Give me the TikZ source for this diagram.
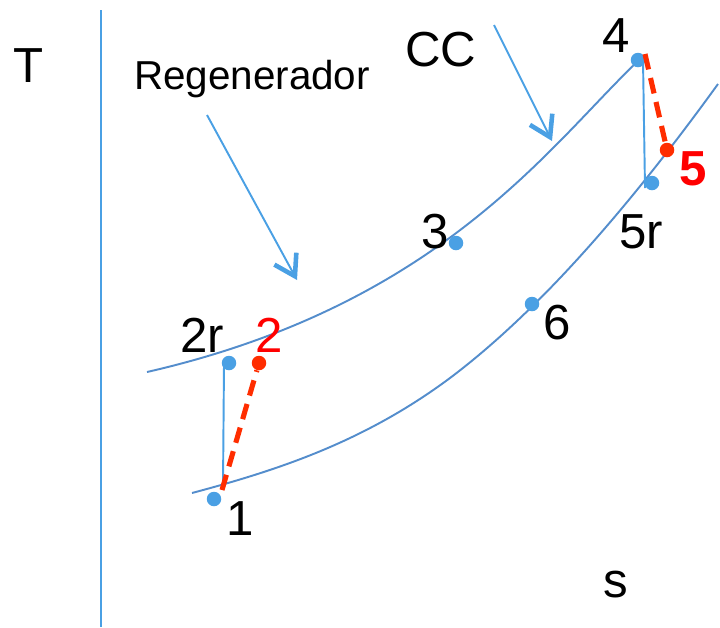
\documentclass[tikz,border=0pt]{standalone}
\usepackage{fontspec}
\setmainfont{Liberation Sans}
\usetikzlibrary{arrows.meta,positioning}

\definecolor{axisblue}{RGB}{74,160,228}
\definecolor{curveblue}{RGB}{84,141,204}
\definecolor{dotblue}{RGB}{74,160,228}
\definecolor{lossred}{RGB}{255,45,0}

\begin{document}
\begin{tikzpicture}[
    x=0.02cm, y=-0.02cm,
    curve/.style={curveblue, line width=1.1pt},
    isen/.style={axisblue, line width=1.1pt},
    real/.style={lossred, line width=2.9pt, dash pattern=on 9pt off 5pt},
    dot/.style={circle, fill=dotblue, inner sep=0pt, minimum size=0.29cm},
    rdot/.style={dot, fill=lossred},
    lbl/.style={font=\fontsize{28}{32}\selectfont, anchor=base, inner sep=0pt},
    callout/.style={axisblue, line width=1.1pt, -{Straight Barb[length=0.4cm, width=0.5cm, line width=2.6pt]}}
]
\useasboundingbox (0,0) rectangle (720,627);

% eixo
\coordinate (axtop) at (101,10);
\coordinate (axbot) at (101,627);
\draw[axisblue, line width=1.3pt] (axtop) -- (axbot);
\node[lbl] (T) at (29,82) {T};
\node[lbl] (s) at (616,597) {s};

% isobaras
\draw[curve] (192,493) .. controls (278,470) and (364,442) .. (450,378)
                       .. controls (539,311) and (629,207) .. (718,84);
\draw[curve] (147,372) .. controls (440,305) and (550,145) .. (637,62);

% compressao e expansao
\coordinate (c1) at (223,486);
\coordinate (c2r) at (224,364);
\coordinate (c4) at (643,60);
\coordinate (c5r) at (645,188);
\coordinate (d1) at (222,490);
\coordinate (d4) at (645,54);
\draw[isen] (c1) -- (c2r);
\draw[isen] (c4) -- (c5r);

\node[dot] (p1) at (214,499) {};
\node[dot] (p2r) at (229,363) {};
\node[dot] (p3) at (456,243) {};
\node[dot] (p4) at (638,60) {};
\node[dot] (p5r) at (652,183) {};
\node[dot] (p6) at (532,304) {};
\node[rdot] (p2) at (259,363) {};
\node[rdot] (p5) at (667,150) {};

\draw[real] (d1) -- (p2);
\draw[real] (d4) -- (p5);

% rotulos
\node[lbl] (l1) at (240,535) {1};
\node[lbl] (l2r) at (202,352) {2r};
\node[lbl, text=red] (l2) at (269,352) {2};
\node[lbl] (l3) at (435,248) {3};
\node[lbl] (l4) at (616,52) {4};
\node[lbl, text=red, font=\fontsize{28}{32}\selectfont\bfseries] (l5) at (693,185) {5};
\node[lbl] (l5r) at (641,248) {5r};
\node[lbl] (l6) at (557,339) {6};

% setas
\node[lbl] (cc) at (441,66) {CC};
\node[lbl, font=\fontsize{23}{27}\selectfont] (regen) at (252,89) {Regenerador};
\coordinate (cctail) at (494,25);
\coordinate (cctip) at (552,141);
\coordinate (regtail) at (207,115);
\coordinate (regtip) at (297,280);
\draw[callout] (cctail) -- (cctip);
\draw[callout] (regtail) -- (regtip);
\end{tikzpicture}
\end{document}
